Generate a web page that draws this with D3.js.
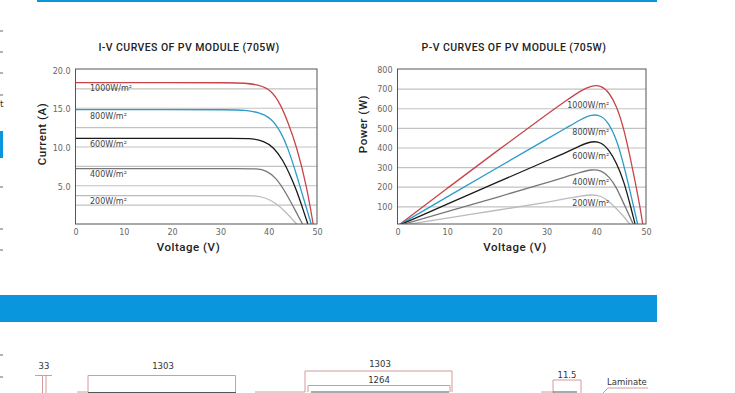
<!DOCTYPE html>
<html><head><meta charset="utf-8">
<script src="https://cdn.jsdelivr.net/npm/d3@7"></script>
<style>
html,body{margin:0;padding:0;background:#fff;overflow:hidden}
svg{display:block}
text{font-family:"DejaVu Sans",sans-serif;fill:#444}
.title{font-family:Roboto,sans-serif;font-weight:500;font-size:10.5px;fill:#222}
.axt{font-family:Roboto,sans-serif;font-weight:500;font-size:11.5px;fill:#222}
.tick text{font-size:8px;fill:#666}
.lab{font-size:8px;fill:#444}
</style></head><body><svg id="c" width="735" height="393"></svg>
<script>
// ---------- data ----------
const irradiance = ["1000W/m²","800W/m²","600W/m²","400W/m²","200W/m²"];
const curveColors = ["#c8444a","#2a9cc8","#1a1a1a","#777777","#bbbbbb"];

const iv1000 = [[0,18.23],[20,18.23],[32,18.23],[35,18.2],[38,17.95],[40.5,17.3],[42.5,15.4],[44,13.1],[45.8,10.0],[47.9,4.8],[49.2,0]];
const iv800  = [[0,14.75],[20,14.75],[32,14.75],[35,14.7],[38,14.4],[40.5,13.7],[42.5,11.9],[44,9.8],[45.8,6.3],[47.5,2.7],[48.8,0]];
const iv600  = [[0,11.05],[20,11.05],[34,11.05],[36.5,11.05],[39,10.7],[41,9.95],[43,8.2],[44.5,6.2],[45.8,4.3],[47.2,1.7],[48.1,0]];
const iv400  = [[0,7.14],[20,7.14],[35,7.14],[37.5,7.14],[39.5,6.9],[41.5,6.0],[43.6,4.0],[45.8,1.4],[47,0]];
const iv200  = [[0,3.65],[20,3.65],[35,3.65],[37.5,3.65],[39.5,3.35],[41.5,2.7],[43.6,1.5],[45.2,0.4],[45.8,0]];

const pv1000 = [[0,0],[10,192],[20,382],[30,568],[34,640],[37,692],[39,716],[41,716],[42.6,680],[44,615],[45.5,506],[47.5,269],[48.8,98],[49.4,0]];
const pv800  = [[0,0],[10,148],[20,296],[30,442],[34,500],[37,545],[39,568],[41,565],[42.6,520],[44,445],[45.2,345],[46.9,167],[48.4,0]];
const pv600  = [[0,0],[10,111],[20,222],[30,332],[34,375],[37,412],[39,432],[41,428],[42.6,385],[44,325],[45.5,234],[47.1,81],[47.9,0]];
const pv400  = [[0,0],[10,73],[20,146],[30,220],[34,252],[37,275],[39,288],[41,284],[42.6,250],[44,200],[45.5,115],[47.6,0]];
const pv200  = [[0,0],[10,40],[20,80],[30,120],[34,140],[37,153],[39,160],[41,154],[42.6,125],[44,90],[45.5,50],[47,0]];

const ivSeries = [iv1000,iv800,iv600,iv400,iv200];
const pvSeries = [pv1000,pv800,pv600,pv400,pv200];

const voltageTicks = [0,10,20,30,40,50];
const currentTicks = [5,10,15,20];
const currentGrid  = [2.5,5,7.5,10,12.5,15,17.5];
const powerTicks   = [100,200,300,400,500,600,700,800];
const powerGrid    = [100,200,300,400,500,600,700];

// Curve label anchors, in data units
const ivLabelPos = [[3,17.2],[3,13.6],[3,9.9],[3,6.05],[3,2.55]];
const pvLabelPos = [[42.6,600],[42.6,463],[42.6,340],[42.6,207],[42.6,100]];

// ---------- page ----------
const svg = d3.select("#c");
const blue = "#0a96dc", red = "#d69a9b", dark = "#555";

svg.append("rect").attr("x",37).attr("y",0).attr("width",620).attr("height",2).attr("fill",blue);
svg.append("rect").attr("x",0).attr("y",295).attr("width",657).attr("height",27).attr("fill",blue);
svg.append("rect").attr("x",0).attr("y",131).attr("width",3).attr("height",27).attr("fill",blue);
[31,52,73,95,187,229,250,355,377].forEach(y=>svg.append("line").attr("x1",0).attr("x2",3).attr("y1",y).attr("y2",y).attr("stroke","#666"));
svg.append("text").attr("x",0).attr("y",107).attr("font-size",9).style("fill","#333").text("t");

function chart(o){
  const x = d3.scaleLinear().domain([0,50]).range(o.xr);
  const y = d3.scaleLinear().domain(o.yd).range(o.yr);
  const g = svg.append("g");
  const W = o.xr[1]-o.xr[0];

  const grid = g.append("g").attr("transform",`translate(${o.xr[0]},0)`)
    .call(d3.axisRight(y).tickValues(o.grid).tickSize(W).tickFormat(""));
  grid.select(".domain").remove();
  grid.selectAll("line").attr("stroke","#c2c2c2").attr("stroke-width",1.2);

  const ya = g.append("g").attr("transform",`translate(${o.xr[0]-2},0)`)
    .call(d3.axisLeft(y).tickValues(o.yticks).tickSize(0).tickFormat(o.yfmt));
  ya.select(".domain").remove();
  ya.selectAll("text").attr("dy",o.ydy);

  const xa = g.append("g").attr("transform",`translate(0,${o.yr[0]})`)
    .call(d3.axisBottom(x).tickValues(voltageTicks).tickSize(0).tickPadding(5).tickFormat(d3.format("d")));
  xa.select(".domain").remove();

  const id = "clip"+Math.round(o.xr[0]);
  svg.append("clipPath").attr("id",id).append("rect")
    .attr("x",o.xr[0]).attr("y",o.yr[1]).attr("width",W).attr("height",o.yr[0]-o.yr[1]);
  const line = d3.line().x(d=>x(d[0])).y(d=>y(d[1])).curve(d3.curveBasis);
  g.append("g").attr("clip-path",`url(#${id})`).selectAll("path").data(o.series).join("path")
    .attr("d",line).attr("fill","none").attr("stroke-width",1.3)
    .attr("stroke",(d,i)=>curveColors[i]);

  g.append("rect").attr("x",o.xr[0]).attr("y",o.yr[1]).attr("width",W).attr("height",o.yr[0]-o.yr[1])
    .attr("fill","none").attr("stroke","#555").attr("stroke-width",1);

  g.selectAll(".lab").data(irradiance).join("text").attr("class","lab")
    .attr("x",(d,i)=>x(o.labs[i][0])).attr("y",(d,i)=>y(o.labs[i][1]))
    .attr("text-anchor",o.anchor).text(d=>d);

  g.append("text").attr("class","title").attr("x",o.tx).attr("y",51).attr("text-anchor","middle")
    .style("letter-spacing",o.tls).text(o.title);
  g.append("text").attr("class","axt").attr("x",o.xtx).attr("y",251).attr("text-anchor","middle")
    .style("letter-spacing","0.5px").text("Voltage (V)");
  g.append("text").attr("class","axt").attr("text-anchor","middle").style("letter-spacing","0.5px")
    .attr("transform",`translate(${o.ytx},${o.yty}) rotate(-90)`).text(o.ylabel);
}

chart({xr:[75.5,317],yd:[0,20],yr:[224,69],grid:currentGrid,yticks:currentTicks,yfmt:d3.format(".1f"),ydy:"0.5em",
  series:ivSeries,labs:ivLabelPos,anchor:"start",title:"I-V CURVES OF PV MODULE (705W)",tx:189,tls:"0.42px",xtx:188.5,ytx:46,yty:134,ylabel:"Current (A)"});
chart({xr:[397.5,646],yd:[10,800],yr:[224,69],grid:powerGrid,yticks:powerTicks,yfmt:d3.format("d"),ydy:"0.4em",
  series:pvSeries,labs:pvLabelPos,anchor:"end",title:"P-V CURVES OF PV MODULE (705W)",tx:514,tls:"0.42px",xtx:515,ytx:367,yty:124,ylabel:"Power (W)"});

// ---------- cropped mechanical drawing along the bottom edge ----------
function seg(x1,y1,x2,y2,c){svg.append("line").attr("x1",x1).attr("y1",y1).attr("x2",x2).attr("y2",y2).attr("stroke",c||red).attr("stroke-width",1);}
function dim(t,x,y,a){svg.append("text").attr("x",x).attr("y",y).attr("text-anchor",a||"middle").attr("font-size",8.5).style("fill","#333").text(t);}
dim("33",44,369); seg(35,375.5,52,375.5); seg(42.5,375.5,42.5,393); seg(46,375.5,46,393);
dim("1303",163,369); seg(88,375.5,235.5,375.5); seg(88,375.5,88,392); seg(235.5,375.5,235.5,392); seg(77,392,88,392); seg(88,392.5,236,392.5,dark);
dim("1303",380,367); seg(305,371,452,371); seg(305,371,305,392); seg(452,371,452,392); seg(255,392,305,392);
dim("1264",379,383); seg(308,385.5,450,385.5); seg(308,385.5,308,392); seg(450,385.5,450,392); seg(311,392,449,392,dark);
dim("11.5",567,378); seg(553,380,581,380); seg(553,380,553,393); seg(581,380,581,393); seg(541,392,553,392); seg(553,392,577,392,dark);
dim("Laminate",607,385,"start"); seg(608,388,648,388); seg(608,388,603,393);
</script></body></html>
